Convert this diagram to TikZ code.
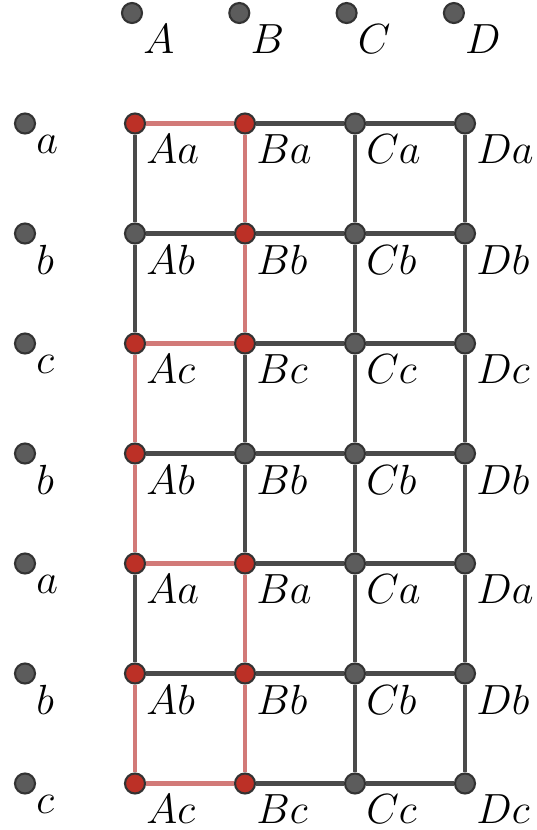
\documentclass[tikz,border=0pt]{standalone}
\definecolor{dotgray}{RGB}{92,92,92}
\definecolor{edgegray}{RGB}{74,74,74}
\definecolor{dotred}{RGB}{188,48,38}
\definecolor{edgered}{RGB}{210,122,120}

\begin{document}
\begin{tikzpicture}[
    dot/.style={circle, draw=black!80, fill=dotgray, line width=0.6pt, minimum size=0.2cm, inner sep=0pt},
    reddot/.style={dot, fill=dotred},
    edge/.style={edgegray, line width=1.4pt},
    rededge/.style={edgered, line width=1.4pt},
    lbl/.style={font=\large, inner sep=0.8pt}
  ]
  \useasboundingbox (0,0) rectangle (5.37,-8.30);

  % Hàng chữ cột phía trên
  \foreach \c [count=\i] in {A,B,C,D}
    \node[dot, label={[lbl]below right:$\c$}] (top\c) at ({1.32+1.073*(\i-1)},-0.13) {};

  % Cột chữ hàng bên trái
  \foreach \r [count=\j] in {a,b,c,b,a,b,c}
    \node[dot, label={[lbl]below right:$\r$}] (left\j) at (0.25,{-1.235-1.1*(\j-1)}) {};

  % Lưới đỉnh
  \foreach \r/\sA/\sB [count=\j] in {a/reddot/reddot, b/dot/reddot, c/reddot/reddot,
      b/reddot/dot, a/reddot/reddot, b/reddot/reddot, c/reddot/reddot} {
    \pgfmathsetmacro\y{-1.235-1.1*(\j-1)}
    \node[\sA, label={[lbl]below right:$A\r$}] (A\j) at (1.35,\y) {};
    \node[\sB, label={[lbl]below right:$B\r$}] (B\j) at (2.45,\y) {};
    \node[dot, label={[lbl]below right:$C\r$}] (C\j) at (3.55,\y) {};
    \node[dot, label={[lbl]below right:$D\r$}] (D\j) at (4.65,\y) {};
  }

  % Cạnh xám
  \foreach \j in {1,...,7}
    \draw[edge] (B\j) -- (C\j) -- (D\j);
  \foreach \j in {2,4,6}
    \draw[edge] (A\j) -- (B\j);
  \foreach \j [evaluate=\j as \k using int(\j+1)] in {1,...,6} {
    \draw[edge] (C\j) -- (C\k);
    \draw[edge] (D\j) -- (D\k);
  }
  \draw[edge] (A1) -- (A2) -- (A3);
  \draw[edge] (A5) -- (A6);
  \draw[edge] (B3) -- (B4) -- (B5);

  % Đường đi màu đỏ
  \draw[rededge] (A1) -- (B1) -- (B2) -- (B3) -- (A3) -- (A4) -- (A5) -- (B5)
    -- (B6) -- (B7) -- (A7) -- (A6);
\end{tikzpicture}
\end{document}
